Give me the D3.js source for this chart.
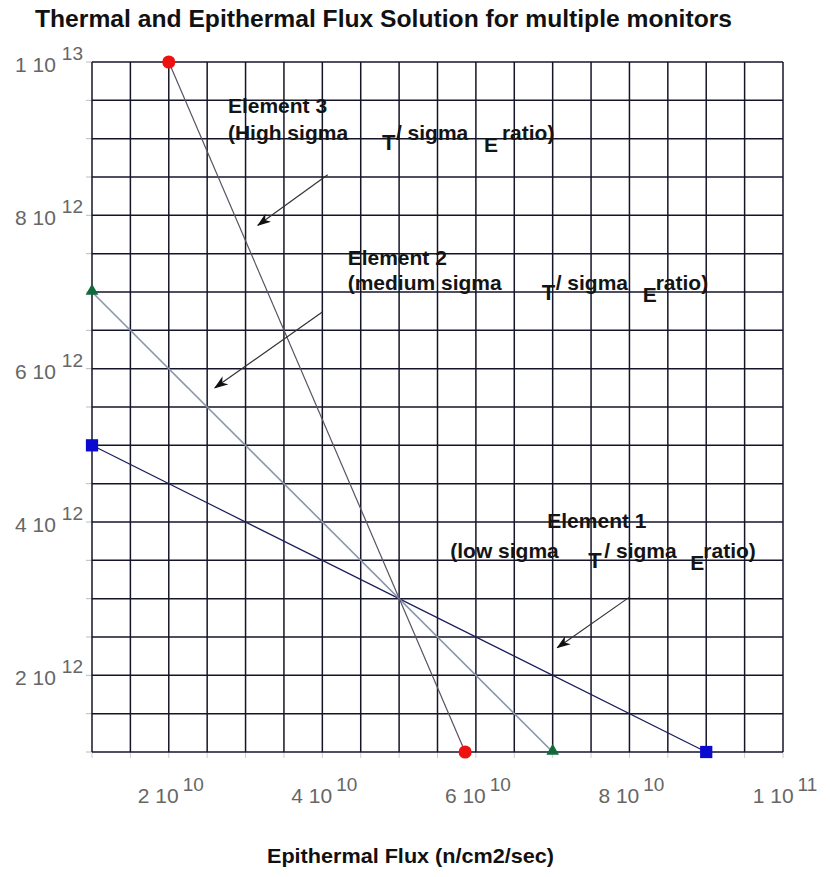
<!DOCTYPE html>
<html>
<head>
<meta charset="utf-8">
<script src="https://cdn.jsdelivr.net/npm/d3@7"></script>
<style>
  body { margin: 0; background: #fff; }
  text { font-family: "Liberation Sans", Arial, sans-serif; }
</style>
</head>
<body>
<script>
// values
const elements = ["Element 1", "Element 2", "Element 3"];
const sigmaWord = ["low", "medium", "High"];
const epiFlux = [[1e10, 9e10], [1e10, 7e10], [2e10, 5.86e10]];
const thermalFlux = [[5e12, 1e12], [7e12, 1e12], [1e13, 1e12]];
const xTickValues = [2e10, 4e10, 6e10, 8e10, 1e11];
const yTickValues = [2e12, 4e12, 6e12, 8e12, 1e13];
const xDomain = [1e10, 1e11];
const yDomain = [1e12, 1e13];

let width = 830;
let height = 877;
let margin = {left: 92, right: 47, top: 62, bottom: 125};

let lineColors = ["#1c1c5c", "#8796ae", "#5a5262"];
let markerColors = ["#0a0ad0", "#106a3c", "#ee1111"];

let svg = d3.select("body").append("svg")
    .attr("width", width)
    .attr("height", height)
    .style("background-color", "white");

let x = d3.scaleLinear().domain(xDomain).range([margin.left, width - margin.right]);
let y = d3.scaleLinear().domain(yDomain).range([height - margin.bottom, margin.top]);

// grid, every half of a labelled step
let gridX = d3.range(0, 19).map(i => xDomain[0] + i * 0.5e10);
let gridY = d3.range(0, 19).map(i => yDomain[0] + i * 0.5e12);

// small outside tick stubs
svg.append("g").selectAll("line").data(gridY).enter().append("line")
    .attr("x1", x(xDomain[0]) - 6).attr("x2", x(xDomain[0]))
    .attr("y1", d => y(d)).attr("y2", d => y(d))
    .attr("stroke", "#bbb").attr("stroke-width", 1);
svg.append("g").selectAll("line").data(gridX).enter().append("line")
    .attr("x1", d => x(d)).attr("x2", d => x(d))
    .attr("y1", y(yDomain[0])).attr("y2", y(yDomain[0]) + 6)
    .attr("stroke", "#ccc").attr("stroke-width", 1);

svg.append("g").selectAll("line").data(gridX).enter().append("line")
    .attr("x1", d => x(d)).attr("x2", d => x(d))
    .attr("y1", y(yDomain[0])).attr("y2", y(yDomain[1]))
    .attr("stroke", "#15152a").attr("stroke-width", 1.5);
svg.append("g").selectAll("line").data(gridY).enter().append("line")
    .attr("x1", x(xDomain[0])).attr("x2", x(xDomain[1]))
    .attr("y1", d => y(d)).attr("y2", d => y(d))
    .attr("stroke", "#15152a").attr("stroke-width", 1.5);

// "m 10^e" style labels
function mant(v) { return Math.round(v / Math.pow(10, Math.floor(Math.log10(v)))); }
function expo(v) { return Math.floor(Math.log10(v)); }

let xl = svg.append("g").selectAll("text").data(xTickValues).enter().append("text")
    .attr("x", d => x(d) + 2)
    .attr("y", y(yDomain[0]) + 51)
    .attr("text-anchor", "middle")
    .attr("fill", "#666")
    .style("font-size", "21px");
xl.append("tspan").text(d => mant(d) + "  10");
xl.append("tspan").attr("dx", 4).attr("dy", -12).style("font-size", "19px").text(d => expo(d));

let yl = svg.append("g").selectAll("text").data(yTickValues).enter().append("text")
    .attr("x", 83)
    .attr("y", d => y(d) + 10)
    .attr("text-anchor", "end")
    .attr("fill", "#666")
    .style("font-size", "21px");
yl.append("tspan").text(d => mant(d) + "  10");
yl.append("tspan").attr("dx", 6).attr("dy", -12).style("font-size", "19px").text(d => expo(d));

// the three lines
let line = d3.line().x(d => x(d[0])).y(d => y(d[1]));
elements.forEach(function (name, i) {
    let pts = epiFlux[i].map((v, j) => [v, thermalFlux[i][j]]);
    svg.append("path").datum(pts)
        .attr("d", line)
        .attr("fill", "none")
        .attr("stroke", lineColors[i])
        .attr("stroke-width", i == 1 ? 1.6 : 1.2);
});

// markers
let symbols = [d3.symbolSquare, d3.symbolTriangle, d3.symbolCircle];
let symSizes = [150, 70, 135];
elements.forEach(function (name, i) {
    let pts = epiFlux[i].map((v, j) => [v, thermalFlux[i][j]]);
    svg.append("g").selectAll("path").data(pts).enter().append("path")
        .attr("d", d3.symbol().type(symbols[i]).size(symSizes[i]))
        .attr("transform", d => "translate(" + x(d[0]) + "," + (y(d[1]) - (i == 1 ? 1 : 0)) + ")")
        .attr("fill", markerColors[i]);
});

// annotations, placed in data units
let defs = svg.append("defs");
defs.append("marker")
    .attr("id", "head")
    .attr("viewBox", "0 0 14 10")
    .attr("refX", 13).attr("refY", 5)
    .attr("markerWidth", 14).attr("markerHeight", 10)
    .attr("markerUnits", "userSpaceOnUse")
    .attr("orient", "auto")
    .append("path")
    .attr("d", "M0,0 L14,5 L0,10 L4,5 Z")
    .attr("fill", "#111");

let notes = [
    {label: [6.93e10, 3.92e12], line2: [-97, 30], t: 41, slash: 57, e: 143, ratio: 156, from: [8.0e10, 3.02e12], to: [7.06e10, 2.36e12]},
    {label: [4.33e10, 7.35e12], line2: [0, 25], t: 194, slash: 208, e: 295, ratio: 308, from: [4.0e10, 6.74e12], to: [2.6e10, 5.75e12]},
    {label: [2.77e10, 9.33e12], line2: [0, 27], t: 154, slash: 168, e: 256, ratio: 274, from: [4.07e10, 8.53e12], to: [3.16e10, 7.87e12]}
];

notes.forEach(function (n, i) {
    let ax = x(n.label[0]), ay = y(n.label[1]);
    let g = svg.append("g").attr("fill", "#141414")
        .style("font-size", "21px").style("font-weight", "bold");
    g.append("text").attr("x", ax).attr("y", ay).text(elements[i]);
    let bx = ax + n.line2[0], by = ay + n.line2[1];
    g.append("text").attr("x", bx).attr("y", by).text("(" + sigmaWord[i] + " sigma");
    g.append("text").attr("x", ax + n.t).attr("y", by + 10).style("font-size", "22px").text("T");
    g.append("text").attr("x", ax + n.slash).attr("y", by).text("/ sigma");
    g.append("text").attr("x", ax + n.e).attr("y", by + 12).style("font-size", "21px").text("E");
    g.append("text").attr("x", ax + n.ratio).attr("y", by).text("ratio)");

    svg.append("line")
        .attr("x1", x(n.from[0])).attr("y1", y(n.from[1]))
        .attr("x2", x(n.to[0])).attr("y2", y(n.to[1]))
        .attr("stroke", "#333").attr("stroke-width", 1.2)
        .attr("marker-end", "url(#head)");
});

// titles
svg.append("text")
    .attr("x", 35).attr("y", 27)
    .attr("textLength", 697).attr("lengthAdjust", "spacingAndGlyphs")
    .style("font-size", "23px").style("font-weight", "bold")
    .attr("fill", "#111")
    .text("Thermal and Epithermal Flux Solution for multiple monitors");

svg.append("text")
    .attr("x", 267).attr("y", 863)
    .attr("textLength", 287).attr("lengthAdjust", "spacingAndGlyphs")
    .style("font-size", "21px").style("font-weight", "bold")
    .attr("fill", "#111")
    .text("Epithermal Flux (n/cm2/sec)");
</script>
</body>
</html>
